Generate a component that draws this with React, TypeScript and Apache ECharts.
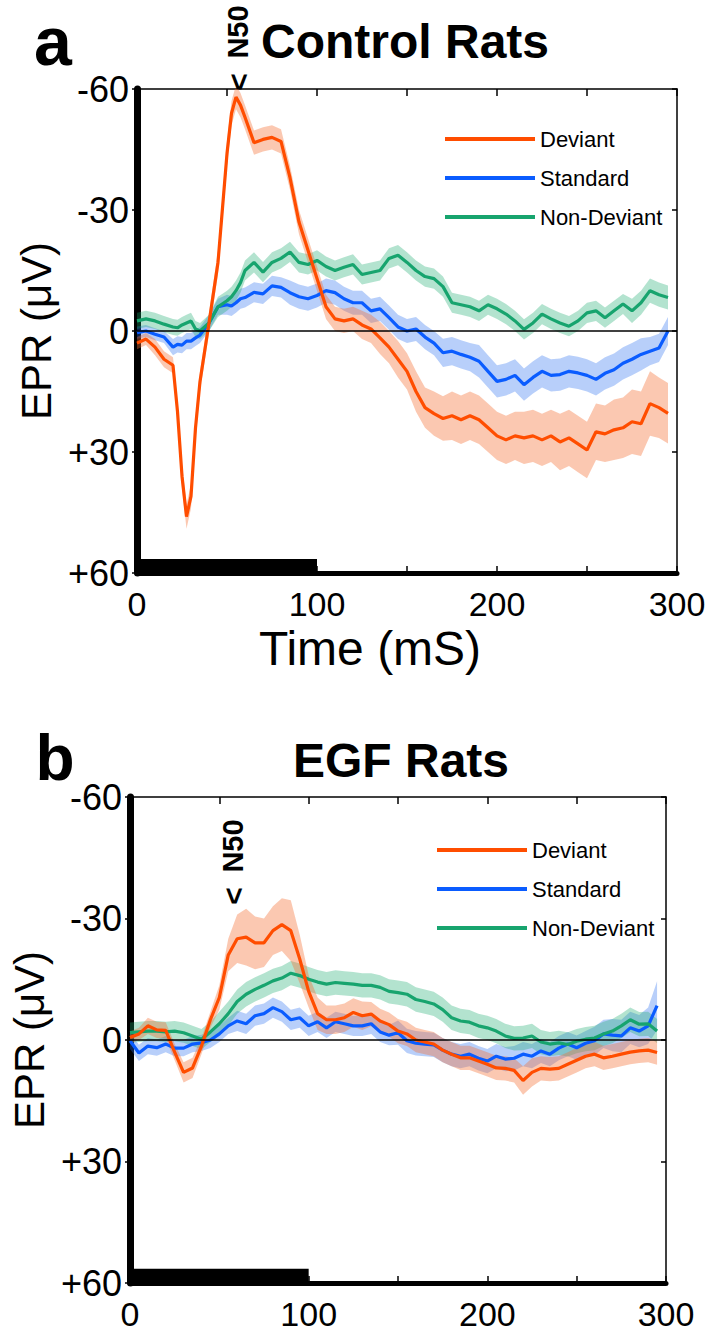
import React, { useEffect, useRef } from "react";
import * as echarts from "echarts";

// ---------- Panel a: Control Rats ----------
const timeA = [0,5,10,15,20,22.5,25,27.5,30,32.5,35,40,45,50,52.5,55,57.5,60,65,70,75,80,85,90,95,100,105,110,115,120,125,130,135,140,145,150,155,160,165,170,175,180,185,190,195,200,205,210,215,220,225,230,235,240,245,250,255,260,265,270,275,280,285,290,295];
const deviantA = [3,2,4,7,8.5,20,36,46,41,24,12.5,-2,-17,-44,-54,-58,-56,-53,-46.7,-47.5,-48,-47,-38,-27,-20,-13,-6,-3,-2.5,-3,-1.5,-0.5,1.7,4,7,10,15,19,20.5,21.7,21,22,21,22,24,26,27,26,26.5,26,27,26,27.5,26.5,28,29.5,25,25.5,24.5,24,22.5,23,18,19,20.4];
const deviantSemA = [1.5,1.5,2,2,2,2.5,3,3,3,3,2.5,2.5,3,3,3,3,3,3,3,3,3,3,3,3,3,3,3,3,3,3,3.5,3.5,4,4,4.5,4.5,5,5,5.5,5.5,6,6,6,6,6,6,6,6,6.5,6.5,6.5,6.5,7,7,7,7,7,7,7.5,7.5,8,8,8,7.5,7.5];
const standardA = [0.4,0,0.8,1.5,4,3.3,3.5,2.5,2.5,1.7,1,-2,-6,-6.5,-6.2,-7,-8,-8.3,-9.6,-9.2,-11.2,-10.8,-9.5,-8.5,-8,-8.8,-10,-9.5,-8,-7,-7,-5,-5.5,-3.3,-1,0,-0.5,1.5,3,5.4,5,5.8,6.5,7.5,10,12.5,12,11,13.3,11.5,10,11,10.8,10,10.4,11,12,10.5,9.6,8,7,5.8,5,4.2,0];
const standardSemA = [1.5,1.5,1.5,1.5,2,2,2,2,2,2,2,2,2,2.5,2.5,2.5,2.5,2.5,2.5,2.5,2.5,2.5,3,3,3,3,3,3,3,3,3,3,3,3,3,3,3,3,3,3.5,3.5,3.5,3.5,4,4,4,4,4,4,4,4,4,4,4,4,4,4,4,4,4,4,4,3.5,3.5,3.5];
const nonDeviantA = [-2.5,-3,-2.5,-1.7,-1,-0.8,-1.5,-2,-2.5,-0.5,0,-2,-6,-7.5,-8.5,-10,-12,-15,-17,-14.6,-17,-18,-19.6,-17,-16.5,-17.5,-16,-15,-15.8,-16.5,-14,-14.5,-15,-18,-18.8,-17,-15,-13.5,-13,-11,-7,-6.5,-6,-5,-6.5,-5.5,-4.2,-2.5,-0.4,-2,-4.2,-3,-2,-1.2,-2.5,-4.5,-5,-3.3,-5,-6.7,-5,-7,-10,-9,-8.3];
const nonDeviantSemA = [2,2,2,2,2,2,2,2,2,2,2,2,2.5,2.5,2.5,2.5,2.5,2.5,2.5,2.5,2.5,2.5,2.5,2.5,2.5,2.5,2.5,2.5,2.5,2.5,2.5,2.5,2.5,2.5,2.5,2.5,2.5,2.5,2.5,2.5,2.5,2.5,2.5,2.5,2.5,2.5,2.5,2.5,2.5,2.5,2.5,2.5,2.5,2.5,2.5,2.5,2.5,2.5,2.5,2.5,3,3,3,3,3];

// ---------- Panel b: EGF Rats ----------
const timeB = [0,5,10,15,20,25,30,35,40,45,50,55,60,65,70,75,80,85,90,95,100,105,110,115,120,125,130,135,140,145,150,155,160,165,170,175,180,185,190,195,200,205,210,215,220,225,230,235,240,245,250,255,260,265,270,275,280,285,290,295];
const deviantB = [-0.6,-1.5,-3.5,-2.5,-2.4,3,8,6.9,1.5,-5,-10.5,-21,-25,-25.4,-24,-24,-27,-28.5,-27,-20,-12,-6.5,-5,-5,-5.5,-6.8,-6,-6.4,-4.7,-3.8,-2.2,-1.5,0,0.5,1,2.5,3.5,4.4,4.4,5.2,6,6.9,7,7.5,10,8,7,7.2,7,6,5,4,3.5,4.4,4,3.5,3,2.7,2.5,3.1];
const deviantSemB = [1.5,1.5,2,2,2,2,2.5,2.5,2,2,3,4,6,7,6.5,6,6,6.5,7.5,6,4,4,3.5,3.5,3.5,3.5,3.5,3,3,3,3,3,3,3,3,3,3,3,3,3,3,3,3,3,3.5,3.5,3,3,3,3,3,3,3,3,3,3,3,3,3,3];
const standardB = [0.2,3.2,1.5,1.9,1,2,2,1,0.7,0,-1.5,-3.5,-4.7,-4,-6,-6.5,-8,-7,-5,-5.5,-3.5,-4.5,-3,-4.5,-4,-3.5,-3.5,-4,-2,-1.2,-1.8,0.2,0.8,1,1.2,2.5,3.5,4,3.5,4.5,5.2,4,4.7,4.5,3.5,4,2.7,3.5,2,1,1.9,0.8,0.2,-1.5,-1.2,-1,-3,-2.2,-3.5,-8.5];
const standardSemB = [2,2,2,2,2,2,2,2,2,2,2,2,2.5,2.5,2.5,2.5,2.5,2.5,2.5,2.5,2.5,2.5,2.5,2.5,2.5,2.5,2.5,2.5,2.5,2.5,3,3,3,3,3,3,3,3,3,3,3,3,3,3,3,3,3,3,3,3,3,3,3.5,3.5,4,4,4,4,4.5,6];
const nonDeviantB = [-1.8,-2,-2.2,-2.2,-2,-2.2,-1.8,-1,-0.2,-2,-4,-6.5,-9.5,-11.3,-12.5,-13.5,-14.6,-15.3,-16.5,-15.9,-15,-14.3,-13.8,-14.2,-14,-13.8,-13.5,-13.5,-13,-12,-11.7,-11.3,-10,-9.5,-8.9,-7.5,-5.5,-4.7,-4.4,-3.5,-3,-2.2,-1,-0.4,-0.5,-1,0.5,1,0.7,1.1,0.3,-0.2,-0.5,-1.5,-2.2,-3.5,-5,-3.9,-4,-2.2];
const nonDeviantSemB = [2.5,2.5,2.5,2.5,2.5,2.5,2.5,2.5,2.5,2.5,3,3,3,3,3,3,3,3,3,3,3,3,3,3,3,3,3,3,3,3,3,3,3,3,3,3,3,3,3,3,3,3,3,3,3,3,3,3,3,3,3,3,3,3,3,3,3,3,3,3];

const seriesNames = ["Deviant", "Standard", "Non-Deviant"];
const yTicks = [-60, -30, 0, 30, 60];
const stimulus = [0, 100]; // ms

const FONT = "'Liberation Sans', Arial, sans-serif";
const LINE = { Deviant: "#ff4d00", Standard: "#0a5cff", "Non-Deviant": "#17a46e" } as Record<string, string>;
const BAND = {
  Deviant: "rgba(245,110,50,0.38)",
  Standard: "rgba(40,110,240,0.33)",
  "Non-Deviant": "rgba(25,170,110,0.33)",
} as Record<string, string>;

function bandSeries(g: number, times: number[], vals: number[], sem: number[], color: string) {
  return {
    type: "custom",
    xAxisIndex: g * 2,
    yAxisIndex: g * 2,
    silent: true,
    clip: true,
    data: [[0, 0]],
    renderItem: (_p: any, api: any) => {
      const pts: number[][] = [];
      for (let i = 0; i < times.length; i++) pts.push(api.coord([times[i], vals[i] - sem[i]]));
      for (let i = times.length - 1; i >= 0; i--) pts.push(api.coord([times[i], vals[i] + sem[i]]));
      return { type: "polygon", shape: { points: pts }, style: { fill: color, stroke: null } };
    },
  };
}

function lineSeries(g: number, name: string, times: number[], vals: number[], extra: any = {}) {
  return {
    type: "line",
    name,
    xAxisIndex: g * 2,
    yAxisIndex: g * 2,
    data: times.map((t, i) => [t, vals[i]]),
    symbol: "none",
    showSymbol: false,
    lineStyle: { color: LINE[name], width: 3.2 },
    itemStyle: { color: LINE[name] },
    ...extra,
  };
}

function axesFor(g: number) {
  const xMain = {
    type: "value", gridIndex: g, min: 0, max: 300, interval: 50, position: "bottom",
    axisLine: { show: true, onZero: false, lineStyle: { color: "#000", width: 5 } },
    axisTick: { show: true, inside: true, length: 7, lineStyle: { color: "#000", width: 1.5 } },
    axisLabel: { formatter: (v: number) => (v % 100 === 0 ? String(v) : ""), fontSize: 34, color: "#000", margin: 14, fontFamily: FONT },
    splitLine: { show: false },
  };
  const xTop = {
    type: "value", gridIndex: g, min: 0, max: 300, interval: 50, position: "top",
    axisLine: { show: true, onZero: false, lineStyle: { color: "#000", width: 1.5 } },
    axisTick: { show: true, inside: true, length: 7, lineStyle: { color: "#000", width: 1.5 } },
    axisLabel: { show: false },
    splitLine: { show: false },
  };
  const yMain = {
    type: "value", gridIndex: g, min: yTicks[0], max: yTicks[yTicks.length - 1], interval: 30, inverse: true, position: "left",
    axisLine: { show: true, onZero: false, lineStyle: { color: "#000", width: 7 } },
    axisTick: { show: true, inside: false, length: 5, lineStyle: { color: "#000", width: 1.5 } },
    axisLabel: { formatter: (v: number) => (v > 0 ? "+" + v : String(v)), fontSize: 36, color: "#000", margin: 8, fontFamily: FONT },
    splitLine: { show: false },
    name: "EPR (\u03BCV)", nameLocation: "middle", nameGap: 64, nameRotate: 90,
    nameTextStyle: { fontSize: 42, color: "#000", fontFamily: FONT },
  };
  const yRight = {
    type: "value", gridIndex: g, min: yTicks[0], max: yTicks[yTicks.length - 1], interval: 30, inverse: true, position: "right",
    axisLine: { show: true, onZero: false, lineStyle: { color: "#000", width: 1.5 } },
    axisTick: { show: true, inside: true, length: 5, lineStyle: { color: "#000", width: 1.5 } },
    axisLabel: { show: false },
    splitLine: { show: false },
  };
  return { x: [xMain, xTop], y: [yMain, yRight] };
}

function panelSeries(g: number, times: number[], dev: number[], devS: number[], std: number[], stdS: number[], nd: number[], ndS: number[]) {
  const decor = {
    markLine: {
      silent: true, symbol: "none", label: { show: false },
      lineStyle: { color: "#000", width: 1.5, type: "solid" },
      data: [{ yAxis: 0 }],
    },
    markArea: {
      silent: true,
      itemStyle: { color: "#000", opacity: 1 },
      data: [[{ xAxis: stimulus[0], yAxis: 56.5 }, { xAxis: stimulus[1], yAxis: 60 }]],
    },
  };
  return [
    bandSeries(g, times, std, stdS, BAND.Standard),
    lineSeries(g, "Standard", times, std, decor),
    bandSeries(g, times, nd, ndS, BAND["Non-Deviant"]),
    lineSeries(g, "Non-Deviant", times, nd),
    bandSeries(g, times, dev, devS, BAND.Deviant),
    lineSeries(g, "Deviant", times, dev),
  ];
}

function txt(text: string, x: number, y: number, size: number, bold: boolean, rotation = 0) {
  return {
    type: "text", x, y, rotation,
    style: { text, fill: "#000", fontSize: size, fontWeight: bold ? "bold" : "normal", fontFamily: FONT, align: "center", verticalAlign: "middle" },
  };
}

export default function App() {
  const ref = useRef<HTMLDivElement>(null);
  useEffect(() => {
    document.body.style.margin = "0";
    if (!ref.current) return;
    const chart = echarts.init(ref.current, undefined, { renderer: "svg" });
    const a = axesFor(0);
    const b = axesFor(1);
    const legendBase = {
      orient: "vertical", icon: "rect", itemWidth: 90, itemHeight: 4, itemGap: 13,
      data: seriesNames, selectedMode: false,
      textStyle: { fontSize: 22, color: "#000", fontFamily: FONT, lineHeight: 26 },
    };
    chart.setOption({
      animation: false,
      backgroundColor: "#fff",
      textStyle: { fontFamily: FONT },
      grid: [
        { left: 137, top: 89, width: 540, height: 484 },
        { left: 130, top: 797, width: 536, height: 486 },
      ],
      xAxis: [...a.x, ...b.x],
      yAxis: [...a.y, ...b.y],
      legend: [
        { ...legendBase, left: 440, top: 121 },
        { ...legendBase, left: 432, top: 832 },
      ],
      series: [
        ...panelSeries(0, timeA, deviantA, deviantSemA, standardA, standardSemA, nonDeviantA, nonDeviantSemA),
        ...panelSeries(1, timeB, deviantB, deviantSemB, standardB, standardSemB, nonDeviantB, nonDeviantSemB),
      ],
      graphic: [
        txt("a", 53, 41, 68, true),
        txt("Control Rats", 405, 41, 48, true),
        txt("N50", 238, 32, 29, true, Math.PI / 2),
        txt("<", 238, 82, 30, true, Math.PI / 2),
        txt("Time (mS)", 370, 648, 48, false),
        txt("b", 55, 758, 64, true),
        txt("EGF Rats", 401, 760, 48, true),
        txt("N50", 233, 846, 29, true, Math.PI / 2),
        txt("<", 233, 896, 30, true, Math.PI / 2),
      ],
    });
    return () => chart.dispose();
  }, []);
  return <div ref={ref} style={{ width: 714, height: 1336 }} />;
}
